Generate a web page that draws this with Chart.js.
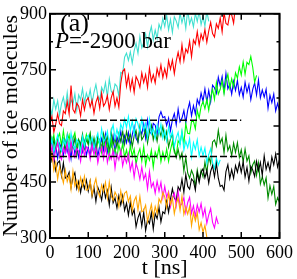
<!DOCTYPE html>
<html>
<head>
<meta charset="utf-8">
<script src="https://cdn.jsdelivr.net/npm/chart.js@4"></script>
<style>
  html, body { margin: 0; padding: 0; background: #fff; }
  #chart { display: block; }
</style>
</head>
<body>
<canvas id="chart" width="297" height="279"></canvas>
<script>
'use strict';

// ── Data (5 ns sampling) ─────────────────────────────────────────────────────
const times = [
  0,5,10,15,20,25,30,35,40,45,50,55,60,65,70,75,80,85,90,95,
  100,105,110,115,120,125,130,135,140,145,150,155,160,165,170,175,180,185,190,195,
  200,205,210,215,220,225,230,235,240,245,250,255,260,265,270,275,280,285,290,295,
  300,305,310,315,320,325,330,335,340,345,350,355,360,365,370,375,380,385,390,395,
  400,405,410,415,420,425,430,435,440,445,450,455,460,465,470,475,480,485,490,495,
  500,505,510,515,520,525,530,535,540,545,550,555,560,565,570,575,580,585,590,595,
  600
];

const turquoise = [
  653,629,670,645,667,629,659,677,647,689,643,670,658,686,642,683,670,700,662,688,
  670,697,661,690,711,680,670,703,690,716,678,725,693,685,712,706,680,743,740,784,
  795,775,798,768,801,821,794,840,809,823,846,812,846,866,830,856,834,872,858,888,
  866,896,857,885,850,892,881,863,902,876,897,861,911,873,889,865,901,879,907,871,
  893,867,907,880
];
const red = [
  605,625,583,605,632,606,601,640,633,665,632,708,644,635,661,653,627,670,643,668,
  675,650,669,634,663,678,647,688,653,662,681,644,675,692,653,675,650,714,746,752,
  706,736,697,725,690,732,721,703,742,716,737,703,755,719,737,715,753,733,763,729,
  753,731,775,752,776,740,774,797,771,817,775,806,796,827,785,830,819,852,816,846,
  830,858,824,854,877,847,838,873,861,889,852,903,874,870,900,897,875,923
];
const green = [
  585,558,576,539,567,580,548,587,551,558,576,537,567,582,542,563,537,570,552,577,
  551,578,536,561,524,562,549,528,564,535,554,516,565,526,540,515,550,526,553,516,
  536,509,547,519,538,497,524,539,506,545,495,522,508,535,489,530,515,544,504,530,
  510,538,505,535,558,529,520,560,552,585,552,606,580,579,612,612,592,642,621,652,
  665,646,671,642,677,698,671,716,685,698,721,686,719,738,701,726,704,742,728,758,
  736,771,738,770,764,786,757,717,735
];
const blue = [
  536,564,524,549,513,553,541,520,558,530,550,513,563,525,541,516,552,530,558,521,
  543,519,560,535,556,518,547,566,535,577,530,558,545,573,528,570,556,586,547,574,
  555,582,547,576,598,567,557,591,578,605,567,616,585,579,607,602,578,624,638,622,
  625,601,621,587,617,633,603,645,611,621,641,608,642,663,627,654,632,671,657,688,
  666,699,664,695,664,709,702,687,730,707,732,693,740,699,712,685,719,695,721,683,
  703,677,717,690,710,670,698,715,683,723,675,696,677,698,647,682,662,685,640,660,
  640
];
const cyan = [
  540,565,529,556,576,543,532,564,549,574,535,581,547,538,564,556,529,572,545,569,
  575,551,570,536,565,581,550,592,557,567,586,551,584,603,566,591,568,605,590,619,
  596,625,586,613,578,619,605,583,619,589,607,569,618,578,593,567,602,578,605,567,
  588,560,597,568,585,543,568,583,548,586,535,559,542,566,517,555,537,563,520,543,
  520,541,500,523,539,502,486,514,495,509
];
const green4 = [
  548,523,564,537,558,519,548,565,534,575,528,554,541,568,523,563,549,578,539,564,
  551,580,540,567,531,572,560,541,579,552,572,537,587,550,566,543,579,558,586,551,
  585,560,579,544,573,588,557,598,563,572,591,554,585,602,563,586,559,592,573,598,
  565,585,543,565,580,537,515,537,512,528,479,516,474,460,481,468,437,482,455,481,
  464,503,474,518,499,557,562,546,588,554,567,528,575,534,547,520,554,529,555,516,
  536,504,538,506,520,474,496,506,468,501,445,464,442,461,407,440,417,438,390,408,
  395
];
const black = [
  535,506,520,481,501,506,466,501,460,463,476,435,462,475,432,451,422,453,432,455,
  426,452,411,435,398,436,423,401,438,408,427,388,435,394,407,380,413,388,413,374,
  393,361,395,362,376,330,354,368,332,369,320,349,339,368,324,365,352,382,343,370,
  365,398,369,404,432,407,400,437,427,457,422,470,438,431,458,452,428,474,449,476,
  485,461,481,447,478,494,464,500,460,438,441,428,478,496,459,483,460,494,476,502,
  476,504,463,489,452,492,482,465,505,480,502,468,520,484,502,480,517,496,525,490,
  510
];
const magenta = [
  520,545,508,535,555,522,510,542,527,552,512,558,524,515,540,532,505,548,520,544,
  538,511,550,523,542,501,528,544,512,551,502,526,511,535,487,525,509,535,493,517,
  501,525,481,503,463,499,482,457,490,457,472,432,478,436,448,420,452,425,449,408,
  438,409,424,384,409,420,386,424,386,392,408,368,395,409,366,386,358,389,369,392,
  358,379,339,362,379,342,327,355,337
];
const orange = [
  504,527,481,502,458,490,470,447,482,451,468,430,479,439,454,428,462,439,465,428,
  430,454,415,441,459,425,411,442,425,449,407,450,413,401,423,412,384,426,397,420,
  425,397,412,374,399,411,375,411,370,374,388,344,368,390,356,384,365,405,394,422,
  410,382,419,390,407,365,392,407,374,412,363,383,364,384,333,367,346,368,322,341,
  315,334,302
];

// reference levels (dashed)
const dashLevels = [615, 518];
const dashSpan   = [0, 500];

// axis ticks
const xMajor = [0, 100, 200, 300, 400, 500, 600];
const xMinor = [50, 150, 250, 350, 450, 550];
const yMajor = [300, 450, 600, 750, 900];
const yMinor = [375, 525, 675, 825];

const SERIF = '"Liberation Serif", "Times New Roman", serif';

// ── Helpers ──────────────────────────────────────────────────────────────────
function series(vals, color) {
  return {
    data: vals.map((v, i) => ({ x: times[i], y: v })),
    borderColor: color,
    borderWidth: 1.1,
    pointRadius: 0,
    fill: false,
    tension: 0,
  };
}

function dashed(level) {
  return {
    data: dashSpan.map(t => ({ x: t, y: level })),
    borderColor: '#000',
    borderWidth: 1.5,
    borderDash: [7, 3],
    pointRadius: 0,
    fill: false,
  };
}

// frame, inward ticks on all four sides, and the in-plot labels
const framePlugin = {
  id: 'frame',
  afterDatasetsDraw(chart) {
    const { ctx, chartArea: a, scales: { x, y } } = chart;
    ctx.save();
    ctx.strokeStyle = '#000';
    ctx.lineWidth = 1.5;
    ctx.beginPath();
    const xt = (vals, len) => vals.forEach(v => {
      const px = x.getPixelForValue(v);
      ctx.moveTo(px, a.bottom); ctx.lineTo(px, a.bottom - len);
      ctx.moveTo(px, a.top);    ctx.lineTo(px, a.top + len);
    });
    const yt = (vals, len) => vals.forEach(v => {
      const py = y.getPixelForValue(v);
      ctx.moveTo(a.left, py);  ctx.lineTo(a.left + len, py);
      ctx.moveTo(a.right, py); ctx.lineTo(a.right - len, py);
    });
    xt(xMajor, 6); xt(xMinor, 3);
    yt(yMajor, 6); yt(yMinor, 3);
    ctx.stroke();

    ctx.lineWidth = 2;
    ctx.strokeRect(a.left, a.top, a.right - a.left, a.bottom - a.top);

    ctx.fillStyle = '#000';
    ctx.textBaseline = 'alphabetic';
    ctx.textAlign = 'left';
    ctx.font = `26px ${SERIF}`;
    ctx.fillText('(a)', 60, 31);
    ctx.font = `italic 23px ${SERIF}`;
    ctx.fillText('P', 55, 48);
    const w = ctx.measureText('P').width;
    ctx.font = `23px ${SERIF}`;
    ctx.fillText('=-2900 bar', 55 + w, 48);
    ctx.restore();
  },
};

// ── Chart ────────────────────────────────────────────────────────────────────
new Chart(document.getElementById('chart'), {
  type: 'line',
  data: {
    // first dataset is drawn on top
    datasets: [
      dashed(dashLevels[0]),
      dashed(dashLevels[1]),
      series(orange,    '#FFA500'),
      series(magenta,   '#FF00FF'),
      series(black,     '#000000'),
      series(cyan,      '#00FFFF'),
      series(green4,    '#008B00'),
      series(green,     '#00FF00'),
      series(blue,      '#0000FF'),
      series(red,       '#FF0000'),
      series(turquoise, '#40E0D0'),
    ],
  },
  options: {
    responsive: false,
    animation: false,
    layout: { padding: { top: 7, right: 15, left: 0, bottom: 0 } },
    plugins: { legend: { display: false }, tooltip: { enabled: false } },
    scales: {
      x: {
        type: 'linear',
        min: 0, max: 600,
        grid: { display: false, drawTicks: false },
        border: { display: false },
        ticks: {
          stepSize: 100, color: '#000', padding: 4, maxRotation: 0,
          autoSkip: false, font: { family: SERIF, size: 18 },
        },
        title: {
          display: true, text: 't [ns]', color: '#000', padding: 0,
          font: { family: SERIF, size: 22, lineHeight: 1 },
        },
        afterFit: s => { s.height = 41; },
      },
      y: {
        min: 300, max: 900,
        grid: { display: false, drawTicks: false },
        border: { display: false },
        ticks: {
          stepSize: 150, color: '#000', padding: 3,
          autoSkip: false, font: { family: SERIF, size: 18 },
        },
        title: {
          display: true, text: 'Number of ice molecules', color: '#000', padding: 0,
          font: { family: SERIF, size: 22, lineHeight: 1 },
        },
        afterFit: s => { s.width = 50; },
      },
    },
  },
  plugins: [framePlugin],
});
</script>
</body>
</html>
